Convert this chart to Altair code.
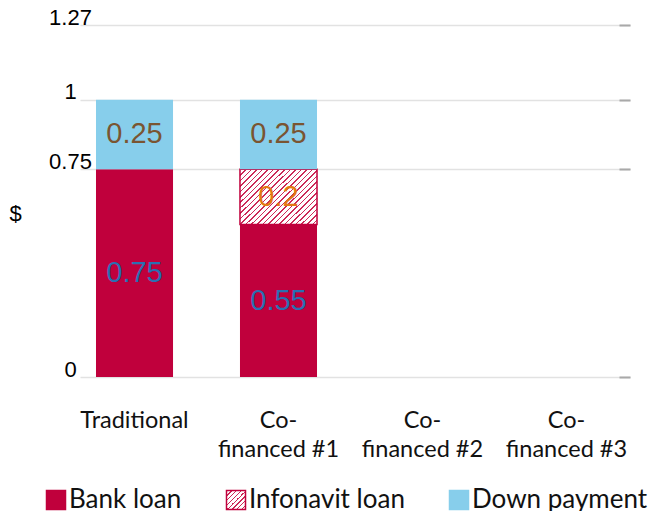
import altair as alt
import pandas as pd

categories = ["Traditional", "Co-financed #1", "Co-financed #2", "Co-financed #3"]
parts = ["Bank loan", "Infonavit loan", "Down payment"]
bank_loan = [0.75, 0.55, None, None]
infonavit_loan = [None, 0.2, None, None]
down_payment = [0.25, 0.25, None, None]
y_ticks = [0, 0.75, 1, 1.27]

CRIMSON = "#c0003c"
SKY = "#87ceeb"
TEXT_COLORS = ["#2a6fb2", "#e27a12", "#7a5532"]

rows = []
for ci, c in enumerate(categories):
    for pi, (p, series) in enumerate(zip(parts, [bank_loan, infonavit_loan, down_payment])):
        v = series[ci]
        if v is not None:
            rows.append({"category": c, "part": p, "value": v, "order": pi})
df = pd.DataFrame(rows)


def hatch_stops(n, frac, line_color):
    stops = []
    for i in range(n):
        a = i / n
        b = (i + frac) / n
        stops += [
            {"offset": a, "color": line_color},
            {"offset": b, "color": line_color},
            {"offset": b, "color": "#ffffff"},
            {"offset": (i + 1) / n, "color": "#ffffff"},
        ]
    return stops


bar_hatch = {
    "gradient": "linear",
    "x1": 0, "y1": 0, "x2": 1.129, "y2": 0.824,
    "stops": hatch_stops(24, 0.28, "#cc2a58"),
}

legend_stops = hatch_stops(8, 0.3, "#cc2a58")
legend_hatch_expr = "{gradient: 'linear', x1: 0, y1: 0, x2: 1, y2: 1, stops: [" + ", ".join(
    "{offset: %g, color: '%s'}" % (s["offset"], s["color"]) for s in legend_stops
) + "]}"

y_scale = alt.Scale(domain=[0, 1.27], nice=False, zero=True)
x_enc = alt.X(
    "category:N",
    scale=alt.Scale(domain=categories, paddingInner=0.465, paddingOuter=0.1424, align=0.39),
    sort=categories,
    axis=alt.Axis(
        title=None, domain=False, ticks=False, labelAngle=0,
        labelFont="Lato", labelFontSize=23.5, labelColor="#111111",
        labelBaseline="top", labelPadding=31, labelLineHeight=29,
        labelExpr="split(replace(datum.label, 'Co-', 'Co-|'), '|')",
    ),
)

base = alt.Chart(df).transform_stack(
    stack="value", groupby=["category"], as_=["y0", "y1"],
    sort=[alt.SortField("order", order="ascending")],
).transform_calculate(ymid="(datum.y0 + datum.y1) / 2")

is_info = "datum.part == 'Infonavit loan'"

bars = base.mark_bar().encode(
    x=x_enc,
    y=alt.Y(
        "y0:Q", scale=y_scale,
        axis=alt.Axis(
            values=y_ticks, format=".3~g", title="$", titleAngle=0,
            titleX=-65, titleY=188, titleAlign="center", titleBaseline="middle",
            titleFont="Liberation Sans", titleFontSize=22, titleFontWeight="normal",
            titleColor="#000000",
            domain=False, ticks=False, grid=True, gridColor="#e2e2e2", gridWidth=1.5,
            labelFont="Liberation Sans", labelFontSize=22, labelColor="#000000",
            labelAlign="center", labelBaseline="alphabetic", labelPadding=10,
            labelOffset=-1,
        ),
    ),
    y2="y1:Q",
    fill=alt.condition(
        is_info, alt.value(bar_hatch),
        alt.Fill("part:N", scale=alt.Scale(domain=parts, range=[CRIMSON, "#ffffff", SKY]), legend=None),
    ),
    stroke=alt.value(CRIMSON),
    strokeWidth=alt.condition(is_info, alt.value(1.5), alt.value(0)),
)

labels = base.mark_text(font="Liberation Sans", fontSize=29, baseline="middle", align="center").encode(
    x=alt.X("category:N", sort=categories),
    y=alt.Y("ymid:Q", axis=None),
    text=alt.Text("value:Q", format="~g"),
    color=alt.Color("part:N", scale=alt.Scale(domain=parts, range=TEXT_COLORS), legend=None),
)

legend_layer = base.transform_filter("false").mark_bar().encode(
    y=alt.Y(
        "y0:Q",
        axis=alt.Axis(
            orient="right", values=y_ticks, labels=False, domain=False, grid=False,
            ticks=True, tickSize=11, tickColor="#a9a9a9", tickWidth=2, offset=-11, title=None,
        ),
    ),
    fill=alt.Fill(
        "part:N",
        scale=alt.Scale(domain=parts, range=[CRIMSON, {"expr": legend_hatch_expr}, SKY]),
        legend=alt.Legend(title=None),
    ),
    stroke=alt.Stroke(
        "part:N",
        scale=alt.Scale(domain=parts, range=[CRIMSON, CRIMSON, SKY]),
        legend=alt.Legend(title=None),
    ),
)

chart = alt.layer(bars, labels, legend_layer).resolve_scale(
    fill="independent", stroke="independent"
).resolve_axis(y="independent").properties(
    width=550, height=352,
    autosize=alt.AutoSizeParams(type="none"),
    padding={"left": 80, "top": 25, "right": 24, "bottom": 134},
).configure_view(stroke=None).configure_legend(
    orient="none", legendX=-37, legendY=462, direction="horizontal",
    symbolType="square", symbolSize=361, symbolStrokeWidth=1.5,
    labelFont="Lato", labelFontSize=26, labelColor="#111111", labelOffset=0,
    columnPadding=41, padding=0, labelLimit=300,
)

chart.save("out.html", embed_options={"renderer": "svg", "actions": False})
